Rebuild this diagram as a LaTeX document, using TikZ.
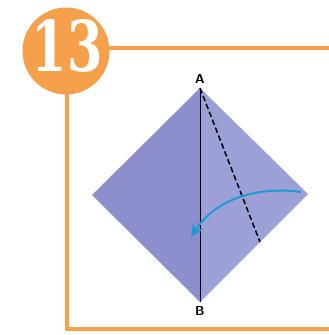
\documentclass[tikz,border=0pt]{standalone}
\usepackage{fontspec}
\newfontfamily\badgefont{DejaVu Serif}
\usepackage{tikz}
\usetikzlibrary{arrows.meta}
\usetikzlibrary{positioning}
\definecolor{stepor}{HTML}{F5A04A}
\definecolor{paperdk}{HTML}{8C8FCB}
\definecolor{paperlt}{HTML}{9DA0D6}
\definecolor{foldblue}{HTML}{1B9AD6}

\begin{document}
\begin{tikzpicture}[
        x=1pt, y=-1pt,
        frame/.style={draw=stepor, line width=4.3pt},
        badge/.style={circle, fill=stepor, minimum size=87pt, inner sep=0pt},
        corner/.style={font=\sffamily\bfseries\fontsize{13}{13}\selectfont},
        crease/.style={black, line width=0.6pt},
        valley/.style={black, line width=1.5pt, dash pattern=on 5.5pt off 3pt},
        turn/.style={-{Stealth[length=13pt,width=12pt]}, foldblue, line width=2pt}
    ]
        \useasboundingbox (0,0) rectangle (329,335);

        % Frame
        \coordinate (topend) at (329,48);
        \coordinate (bl) at (67,329);
        \coordinate (botend) at (329,329);
        \draw[frame] (66,48) -- (topend);
        \draw[frame] (67,51) -- (bl) -- (botend);
        \node[badge] (num) at (66,51) {};
        \node[white, xscale=0.73, inner sep=0pt, font=\badgefont\bfseries\fontsize{70}{70}\selectfont] (numtxt) at (67,46) {13};

        % Paper
        \coordinate (A) at (200,88);
        \coordinate (B) at (200,302);
        \coordinate (L) at (92,195);
        \coordinate (R) at (308,194);
        \coordinate (F) at (260,242);
        \fill[paperdk] (A) -- (L) -- (B) -- cycle;
        \fill[paperlt] (A) -- (R) -- (B) -- cycle;
        \draw[crease] (A) -- (B);
        \draw[valley] (A) -- (F);
        \node[corner, above=1pt of A] (labA) {A};
        \node[corner, below=1pt of B] (labB) {B};

        % Fold arrow
        \coordinate (s) at (301,192);
        \coordinate (t) at (191,237);
        \draw[turn] (s) .. controls (255,186) and (215,200) .. (t);
    \end{tikzpicture}
\end{document}
